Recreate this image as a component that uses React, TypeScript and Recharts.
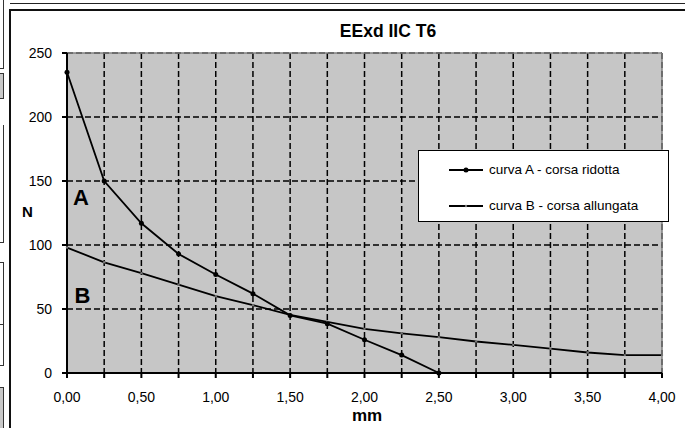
import React from "react";
import {
  LineChart,
  Line,
  XAxis,
  YAxis,
  CartesianGrid,
  ReferenceLine,
  ReferenceDot,
} from "recharts";

const xValues = [0, 0.25, 0.5, 0.75, 1, 1.25, 1.5, 1.75, 2, 2.25, 2.5, 2.75, 3, 3.25, 3.5, 3.75, 4];
const curveA = [235, 150, 117, 93, 77, 62, 45, 38.5, 26, 14, 0, null, null, null, null, null, null];
const curveB = [98, 86.5, 78, 69, 60, 53, 45.5, 40, 34.5, 31, 28, 24.6, 22, 19, 16, 14, 14];
const xTicks = [0, 0.25, 0.5, 0.75, 1, 1.25, 1.5, 1.75, 2, 2.25, 2.5, 2.75, 3, 3.25, 3.5, 3.75, 4];
const yTicks = [0, 50, 100, 150, 200, 250];
const seriesNames = ["curva A - corsa ridotta", "curva B - corsa allungata"];

const data = xValues.map((x, i) => ({ x, a: curveA[i], b: curveB[i] }));

const FONT = "'Liberation Sans', Arial, sans-serif";

const fmtX = (v: number) =>
  Math.round(v * 100) % 50 === 0 ? v.toFixed(2).replace(".", ",") : "";

function Frame() {
  return (
    <>
      {/* bits of the surrounding page */}
      <div style={{ position: "absolute", left: 10, top: 0, right: 0, height: 3, borderBottom: "1.5px solid #222" }} />
      <div style={{ position: "absolute", left: 0, top: 0, width: 3, height: 68, borderRight: "1px solid #333", borderBottom: "1px solid #333" }} />
      <div style={{ position: "absolute", left: 0, top: 73, width: 3, height: 24, border: "1px solid #333", borderLeft: "none", background: "#c8c8c8" }} />
      <div style={{ position: "absolute", left: 0, top: 125, width: 3, height: 117, borderRight: "1px solid #333", borderBottom: "1px solid #333" }} />
      <div style={{ position: "absolute", left: 0, top: 262, width: 3, height: 61, borderRight: "1px solid #333", borderBottom: "1px solid #333", borderTop: "1px solid #333" }} />
      <div style={{ position: "absolute", left: 0, top: 323, width: 3, height: 42, borderRight: "1px solid #333", borderBottom: "1px solid #333" }} />
      <div style={{ position: "absolute", left: 0, top: 387, width: 3, height: 41, borderRight: "1px solid #333", borderTop: "1px solid #333", background: "#c8c8c8" }} />
      <div style={{ position: "absolute", left: 9, top: 9, right: -4, bottom: -4, borderLeft: "2px solid #111", borderTop: "2px solid #111" }} />
    </>
  );
}

function LegendBox() {
  return (
    <div
      style={{
        position: "absolute",
        left: 418,
        top: 150,
        width: 249,
        height: 70,
        background: "#fff",
        border: "1.5px solid #000",
        fontFamily: FONT,
        fontSize: 13.5,
        color: "#000",
      }}
    >
      {seriesNames.map((name, i) => (
        <div key={name} style={{ position: "absolute", left: 30, top: i === 0 ? 11 : 47, display: "flex", alignItems: "center" }}>
          <svg width={34} height={10} style={{ marginRight: 6 }}>
            <line x1={0} y1={5} x2={34} y2={5} stroke="#000" strokeWidth={1.8} />
            {i === 0 ? <circle cx={17} cy={5} r={2.5} fill="#000" /> : <circle cx={17} cy={5} r={1.2} fill="#777" />}
          </svg>
          <span>{name}</span>
        </div>
      ))}
    </div>
  );
}

export default function App() {
  return (
    <div style={{ position: "absolute", left: 0, top: 0, width: 685, height: 428, background: "#fff", overflow: "hidden" }}>
      <Frame />
      <div style={{ position: "absolute", left: 288, top: 21, width: 200, textAlign: "center", fontFamily: FONT, fontWeight: "bold", fontSize: 17.5 }}>
        EExd IIC T6
      </div>
      <div style={{ position: "absolute", left: 22, top: 203, fontFamily: FONT, fontWeight: "bold", fontSize: 15 }}>N</div>
      <div style={{ position: "absolute", left: 327, top: 406, width: 80, textAlign: "center", fontFamily: FONT, fontWeight: "bold", fontSize: 17 }}>mm</div>
      <div style={{ position: "absolute", left: 0, top: 0 }}>
        <LineChart width={685} height={428} data={data} margin={{ top: 53, right: 23, bottom: 25, left: 7 }}>
          <CartesianGrid
            fill="#c6c6c6"
            stroke="#000"
            strokeDasharray="6 3"
            strokeWidth={1.5}
            horizontalValues={yTicks}
            verticalValues={xTicks}
          />
          <XAxis
            dataKey="x"
            type="number"
            domain={[0, 4]}
            ticks={xTicks}
            tickFormatter={fmtX}
            interval={0}
            height={30}
            tickSize={5}
            tickMargin={14}
            stroke="#000"
            strokeWidth={2}
            tick={{ fill: "#000", fontFamily: FONT, fontSize: 14 }}
          />
          <YAxis
            type="number"
            domain={[0, 250]}
            ticks={yTicks}
            width={60}
            tickSize={5}
            tickMargin={10}
            stroke="#000"
            strokeWidth={2}
            tick={{ fill: "#000", fontFamily: FONT, fontSize: 14 }}
          />
          <ReferenceLine x={4} stroke="#808080" strokeWidth={1.5} />
          <ReferenceLine y={250} stroke="#808080" strokeWidth={1.5} />
          <ReferenceDot
            x={0.094}
            y={137}
            r={0}
            label={{ value: "A", position: "center", fill: "#000", fontFamily: FONT, fontWeight: "bold", fontSize: 22 }}
          />
          <ReferenceDot
            x={0.104}
            y={61}
            r={0}
            label={{ value: "B", position: "center", fill: "#000", fontFamily: FONT, fontWeight: "bold", fontSize: 22 }}
          />
          <Line
            type="linear"
            dataKey="b"
            name={seriesNames[1]}
            stroke="#000"
            strokeWidth={1.8}
            dot={{ r: 1.2, fill: "#777", stroke: "none" }}
            isAnimationActive={false}
          />
          <Line
            type="linear"
            dataKey="a"
            name={seriesNames[0]}
            stroke="#000"
            strokeWidth={1.8}
            dot={{ r: 2.5, fill: "#000", stroke: "none" }}
            connectNulls={false}
            isAnimationActive={false}
          />
        </LineChart>
      </div>
      <LegendBox />
    </div>
  );
}
